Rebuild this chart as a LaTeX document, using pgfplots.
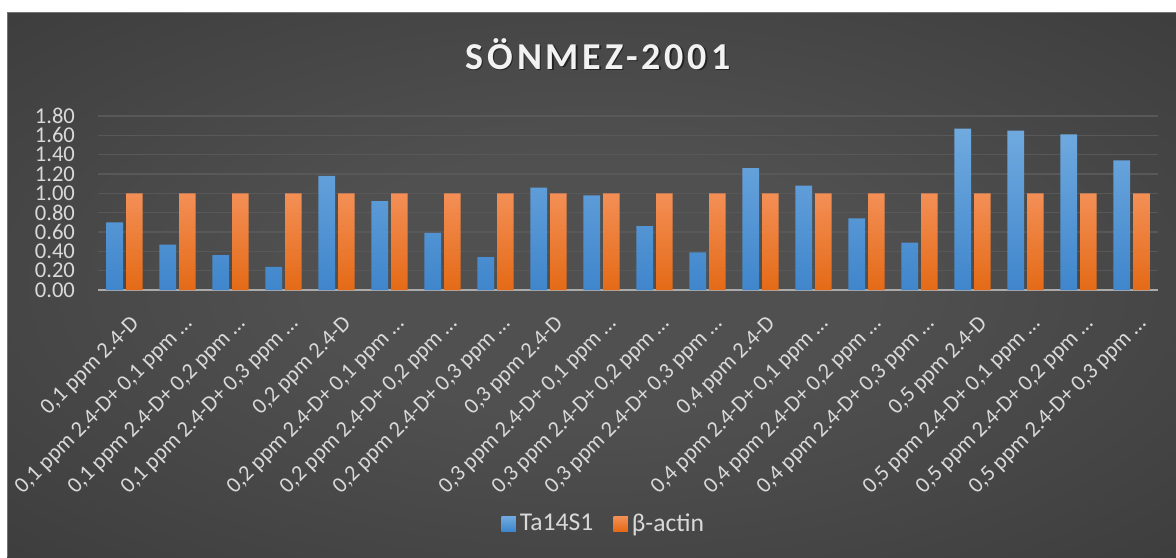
\documentclass[border=0pt]{standalone}
\usepackage{fontspec}
\setmainfont{Carlito}
\newfontfamily\titlefont[LetterSpace=10]{Carlito}
\usepackage{pgfplots}
\pgfplotsset{compat=1.18}
\definecolor{txt}{RGB}{217,217,217}
\definecolor{titlec}{RGB}{242,242,242}
\definecolor{gridc}{RGB}{88,88,88}
\definecolor{axc}{RGB}{170,170,170}
\definecolor{bluetop}{RGB}{112,170,223}
\definecolor{bluebot}{RGB}{64,134,204}
\definecolor{oratop}{RGB}{243,143,86}
\definecolor{orabot}{RGB}{228,106,22}
\definecolor{bgin}{RGB}{80,80,80}
\definecolor{bgout}{RGB}{36,36,36}
\pgfdeclareradialshading{bgshade}{\pgfpoint{0bp}{0bp}}{color(0bp)=(bgin); color(12bp)=(bgin); color(68bp)=(bgout); color(75bp)=(bgout)}
\begin{document}
\begin{tikzpicture}
\useasboundingbox (0,0) rectangle (588pt,-278.5pt);
\fill[white] (0,0) rectangle (588pt,-278.5pt);
\shade[shading=bgshade] (3.5pt,-6pt) rectangle (588pt,-278.5pt);
\draw[black!55, line width=0.5pt] (3.5pt,-278.5pt) -- (3.5pt,-6pt) -- (588pt,-6pt);
\node[anchor=base, text=black, opacity=0.5, font=\titlefont\fontsize{19}{22}\selectfont\bfseries] at (299.6pt,-35.1pt) {SÖNMEZ-2001};
\node[anchor=base, text=titlec, font=\titlefont\fontsize{19}{22}\selectfont\bfseries] at (299pt,-34.5pt) {SÖNMEZ-2001};
\begin{axis}[
  at={(49pt,-145pt)}, anchor=south west,
  scale only axis, width=530pt, height=87pt,
  ybar=1.5pt, bar width=8.35pt,
  xmin=-0.5, xmax=19.5, ymin=0, ymax=1.8,
  xtick={0,...,19},
  xticklabels={{0,1 ppm 2.4-D},{0,1 ppm 2.4-D+ 0,1 ppm …},{0,1 ppm 2.4-D+ 0,2 ppm …},{0,1 ppm 2.4-D+ 0,3 ppm …},
    {0,2 ppm 2.4-D},{0,2 ppm 2.4-D+ 0,1 ppm …},{0,2 ppm 2.4-D+ 0,2 ppm …},{0,2 ppm 2.4-D+ 0,3 ppm …},
    {0,3 ppm 2.4-D},{0,3 ppm 2.4-D+ 0,1 ppm …},{0,3 ppm 2.4-D+ 0,2 ppm …},{0,3 ppm 2.4-D+ 0,3 ppm …},
    {0,4 ppm 2.4-D},{0,4 ppm 2.4-D+ 0,1 ppm …},{0,4 ppm 2.4-D+ 0,2 ppm …},{0,4 ppm 2.4-D+ 0,3 ppm …},
    {0,5 ppm 2.4-D},{0,5 ppm 2.4-D+ 0,1 ppm …},{0,5 ppm 2.4-D+ 0,2 ppm …},{0,5 ppm 2.4-D+ 0,3 ppm …}},
  ytick={0,0.2,0.4,0.6,0.8,1.0,1.2,1.4,1.6,1.8},
  /pgf/number format/fixed, /pgf/number format/fixed zerofill, /pgf/number format/precision=2,
  /pgf/number format/assume math mode=true,
  yticklabel style={text=txt, font=\fontsize{11.3}{12}\selectfont, xshift=-8pt},
  xticklabel style={text=txt, font=\fontsize{11.2}{12}\selectfont, inner sep=0pt, xshift=2.5pt, yshift=-12pt, rotate=45, anchor=north east},
  major tick length=0pt,
  axis line style={draw=none},
  ymajorgrids, grid style={draw=gridc, line width=0.6pt},
  extra y ticks={0}, extra y tick labels={},
  extra y tick style={grid style={draw=axc, line width=0.9pt}},
  legend style={at={(0.478,-1.343)}, anchor=center, draw=none, fill=none, text=txt,
    font=\fontsize{12.8}{14}\selectfont, legend columns=2,
    /tikz/every even column/.append style={column sep=8pt}},
  legend image code/.code={\fill[#1] (0pt,-3.7pt) rectangle (7.3pt,3.7pt);},
]
\addplot[draw=none, top color=bluetop, bottom color=bluebot] coordinates {
(0,0.70) (1,0.47) (2,0.36) (3,0.24) (4,1.18) (5,0.92) (6,0.59) (7,0.34) (8,1.06) (9,0.98)
(10,0.66) (11,0.39) (12,1.26) (13,1.08) (14,0.74) (15,0.49) (16,1.67) (17,1.65) (18,1.61) (19,1.34)};
\addlegendentry{Ta14S1}
\addplot[draw=none, top color=oratop, bottom color=orabot] coordinates {
(0,1) (1,1) (2,1) (3,1) (4,1) (5,1) (6,1) (7,1) (8,1) (9,1)
(10,1) (11,1) (12,1) (13,1) (14,1) (15,1) (16,1) (17,1) (18,1) (19,1)};
\addlegendentry{β-actin}
\end{axis}
\end{tikzpicture}
\end{document}
